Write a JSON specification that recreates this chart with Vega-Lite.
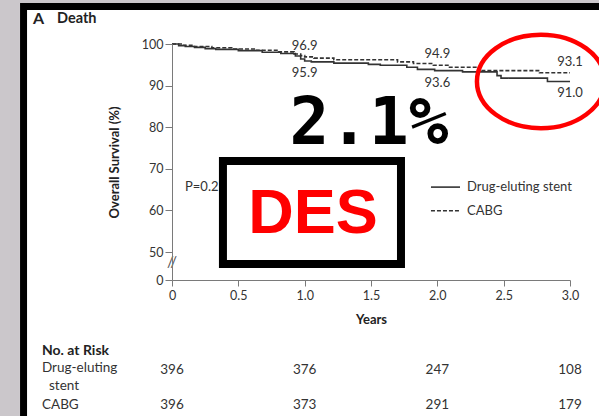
{
  "$schema": "https://vega.github.io/schema/vega-lite/v6.json",
  "width": 398,
  "height": 236,
  "autosize": "none",
  "padding": {"left": 172, "top": 44, "right": 29, "bottom": 136},
  "background": "white",
  "config": {
    "view": {"stroke": null},
    "text": {"font": "Lato", "color": "#333333", "fontSize": 12.5}
  },
  "datasets": {
    "one": [{}],
    "survival": [
      {"group": "Drug-eluting stent", "t": 0, "s": 100},
      {"group": "Drug-eluting stent", "t": 0.05, "s": 99.6},
      {"group": "Drug-eluting stent", "t": 0.1, "s": 99.4},
      {"group": "Drug-eluting stent", "t": 0.17, "s": 99.2},
      {"group": "Drug-eluting stent", "t": 0.25, "s": 98.9},
      {"group": "Drug-eluting stent", "t": 0.33, "s": 98.7},
      {"group": "Drug-eluting stent", "t": 0.5, "s": 98.4},
      {"group": "Drug-eluting stent", "t": 0.68, "s": 98.0},
      {"group": "Drug-eluting stent", "t": 0.82, "s": 97.7},
      {"group": "Drug-eluting stent", "t": 0.93, "s": 97.1},
      {"group": "Drug-eluting stent", "t": 0.97, "s": 96.4},
      {"group": "Drug-eluting stent", "t": 1.0, "s": 95.9},
      {"group": "Drug-eluting stent", "t": 1.05, "s": 95.7},
      {"group": "Drug-eluting stent", "t": 1.22, "s": 95.4},
      {"group": "Drug-eluting stent", "t": 1.48, "s": 95.1},
      {"group": "Drug-eluting stent", "t": 1.57, "s": 94.9},
      {"group": "Drug-eluting stent", "t": 1.77, "s": 94.4},
      {"group": "Drug-eluting stent", "t": 1.85, "s": 93.9},
      {"group": "Drug-eluting stent", "t": 1.98, "s": 93.6},
      {"group": "Drug-eluting stent", "t": 2.19, "s": 93.3},
      {"group": "Drug-eluting stent", "t": 2.45, "s": 92.4},
      {"group": "Drug-eluting stent", "t": 2.48, "s": 91.8},
      {"group": "Drug-eluting stent", "t": 2.83, "s": 91.0},
      {"group": "Drug-eluting stent", "t": 3.0, "s": 91.0},
      {"group": "CABG", "t": 0, "s": 100},
      {"group": "CABG", "t": 0.08, "s": 99.7},
      {"group": "CABG", "t": 0.15, "s": 99.4},
      {"group": "CABG", "t": 0.3, "s": 99.1},
      {"group": "CABG", "t": 0.45, "s": 98.8},
      {"group": "CABG", "t": 0.62, "s": 98.5},
      {"group": "CABG", "t": 0.8, "s": 98.1},
      {"group": "CABG", "t": 0.92, "s": 97.6},
      {"group": "CABG", "t": 0.97, "s": 97.2},
      {"group": "CABG", "t": 1.0, "s": 96.9},
      {"group": "CABG", "t": 1.07, "s": 96.6},
      {"group": "CABG", "t": 1.22, "s": 96.2},
      {"group": "CABG", "t": 1.7, "s": 95.7},
      {"group": "CABG", "t": 1.82, "s": 95.3},
      {"group": "CABG", "t": 1.97, "s": 94.9},
      {"group": "CABG", "t": 2.08, "s": 94.4},
      {"group": "CABG", "t": 2.32, "s": 93.6},
      {"group": "CABG", "t": 2.77, "s": 93.1},
      {"group": "CABG", "t": 3.0, "s": 93.1}
    ],
    "landmarks": [
      {"group": "Drug-eluting stent", "t": 1, "s": 95.9},
      {"group": "Drug-eluting stent", "t": 2, "s": 93.6},
      {"group": "Drug-eluting stent", "t": 3, "s": 91.0},
      {"group": "CABG", "t": 1, "s": 96.9},
      {"group": "CABG", "t": 2, "s": 94.9},
      {"group": "CABG", "t": 3, "s": 93.1}
    ],
    "atRisk": [
      {"group": "Drug-eluting stent", "t": 0, "n": 396},
      {"group": "Drug-eluting stent", "t": 1, "n": 376},
      {"group": "Drug-eluting stent", "t": 2, "n": 247},
      {"group": "Drug-eluting stent", "t": 3, "n": 108},
      {"group": "CABG", "t": 0, "n": 396},
      {"group": "CABG", "t": 1, "n": 373},
      {"group": "CABG", "t": 2, "n": 291},
      {"group": "CABG", "t": 3, "n": 179}
    ]
  },
  "layer": [
    {
      "data": {"name": "survival"},
      "mark": {"type": "line", "interpolate": "step-after", "color": "#333333", "strokeWidth": 1.6},
      "encoding": {
        "x": {
          "field": "t", "type": "quantitative",
          "scale": {"domain": [0, 3], "nice": false, "zero": false},
          "axis": {
            "title": "Years",
            "values": [0, 0.5, 1, 1.5, 2, 2.5, 3],
            "tickCount": 20,
            "labelExpr": "datum.value == 0 ? '0' : format(datum.value, '.1f')",
            "grid": false, "zindex": 1, "labelOverlap": false,
            "domainColor": "#7a7a7a", "tickColor": "#7a7a7a",
            "labelColor": "#333333", "labelFont": "Lato", "labelFontSize": 12.5, "labelFlush": false,
            "titleFont": "Lato", "titleFontSize": 13, "titleFontWeight": "bold", "titleColor": "#222222",
            "tickSize": 6, "labelPadding": 3, "titlePadding": 12
          }
        },
        "y": {
          "field": "s", "type": "quantitative",
          "scale": {"domain": [43.27, 100], "nice": false, "zero": false},
          "axis": {
            "title": "Overall Survival (%)",
            "values": [43.27, 50, 60, 70, 80, 90, 100],
            "tickCount": 20,
            "labelExpr": "datum.value < 45 ? '0' : datum.label",
            "grid": false, "zindex": 1, "labelOverlap": false,
            "domainColor": "#7a7a7a", "tickColor": "#7a7a7a",
            "labelColor": "#333333", "labelFont": "Lato", "labelFontSize": 12.5, "labelFlush": false,
            "titleFont": "Lato", "titleFontSize": 13, "titleFontWeight": "bold", "titleColor": "#222222",
            "tickSize": 7, "labelPadding": 2, "titlePadding": 20
          }
        },
        "detail": {"field": "group"},
        "strokeDash": {
          "field": "group", "type": "nominal",
          "scale": {"domain": ["Drug-eluting stent", "CABG"], "range": [[1, 0], [4, 2]]},
          "legend": null
        }
      }
    },
    {
      "data": {"name": "one"},
      "mark": {"type": "rect", "fill": "#cbc7cb", "strokeWidth": 0},
      "encoding": {
        "x": {"datum": -5, "type": "quantitative"},
        "x2": {"datum": -1.146},
        "y": {"datum": 130, "type": "quantitative"},
        "y2": {"datum": -20}
      }
    },
    {
      "data": {"name": "one"},
      "mark": {"type": "rect", "fill": "#cbc7cb", "strokeWidth": 0},
      "encoding": {
        "x": {"datum": -5, "type": "quantitative"},
        "x2": {"datum": 6},
        "y": {"datum": 130, "type": "quantitative"},
        "y2": {"datum": 109.86}
      }
    },
    {
      "data": {"name": "one"},
      "mark": {"type": "rect", "filled": false, "fillOpacity": 0, "stroke": "black", "strokeWidth": 7},
      "encoding": {
        "x": {"datum": -1.119, "type": "quantitative"},
        "x2": {"datum": 3.6},
        "y": {"datum": 109.0, "type": "quantitative"},
        "y2": {"datum": 2.0}
      }
    },
    {
      "data": {"name": "one"},
      "mark": {"type": "text", "text": "//", "fontSize": 15, "color": "#555555", "align": "center", "baseline": "middle"},
      "encoding": {
        "x": {"datum": 0, "type": "quantitative"},
        "y": {"datum": 47.6, "type": "quantitative"}
      }
    },
    {
      "data": {"name": "landmarks"},
      "transform": [{"filter": "datum.group == 'CABG'"}],
      "mark": {"type": "text", "align": "center", "baseline": "middle", "dy": -11, "fontSize": 13},
      "encoding": {
        "x": {"field": "t", "type": "quantitative"},
        "y": {"field": "s", "type": "quantitative"},
        "text": {"field": "s", "type": "quantitative", "format": ".1f"}
      }
    },
    {
      "data": {"name": "landmarks"},
      "transform": [{"filter": "datum.group == 'Drug-eluting stent'"}],
      "mark": {"type": "text", "align": "center", "baseline": "middle", "dy": 12, "fontSize": 13},
      "encoding": {
        "x": {"field": "t", "type": "quantitative"},
        "y": {"field": "s", "type": "quantitative"},
        "text": {"field": "s", "type": "quantitative", "format": ".1f"}
      }
    },
    {
      "data": {"name": "one"},
      "mark": {"type": "rule", "color": "#333333", "strokeWidth": 1.6},
      "encoding": {
        "x": {"datum": 1.952, "type": "quantitative"},
        "x2": {"datum": 2.171},
        "y": {"datum": 65.6, "type": "quantitative"}
      }
    },
    {
      "data": {"name": "one"},
      "mark": {"type": "rule", "color": "#333333", "strokeWidth": 1.6, "strokeDash": [4, 2]},
      "encoding": {
        "x": {"datum": 1.952, "type": "quantitative"},
        "x2": {"datum": 2.171},
        "y": {"datum": 59.9, "type": "quantitative"}
      }
    },
    {
      "data": {"name": "one"},
      "mark": {"type": "text", "text": "Drug-eluting stent", "align": "left", "baseline": "middle", "fontSize": 13},
      "encoding": {
        "x": {"datum": 2.224, "type": "quantitative"},
        "y": {"datum": 65.6, "type": "quantitative"}
      }
    },
    {
      "data": {"name": "one"},
      "mark": {"type": "text", "text": "CABG", "align": "left", "baseline": "middle", "fontSize": 13},
      "encoding": {
        "x": {"datum": 2.224, "type": "quantitative"},
        "y": {"datum": 59.9, "type": "quantitative"}
      }
    },
    {
      "data": {"name": "one"},
      "mark": {"type": "text", "text": "P=0.25", "align": "left", "baseline": "middle", "fontSize": 13},
      "encoding": {
        "x": {"datum": 0.098, "type": "quantitative"},
        "y": {"datum": 65.6, "type": "quantitative"}
      }
    },
    {
      "data": {"name": "one"},
      "mark": {"type": "rect", "fill": "white", "stroke": "black", "strokeWidth": 8},
      "encoding": {
        "x": {"datum": 0.384, "type": "quantitative"},
        "x2": {"datum": 1.726},
        "y": {"datum": 71.9, "type": "quantitative"},
        "y2": {"datum": 47.1}
      }
    },
    {
      "data": {"name": "one"},
      "mark": {"type": "text", "text": "DES", "font": "Liberation Sans", "fontWeight": "bold", "fontSize": 63, "color": "#ff0000", "align": "center", "baseline": "alphabetic"},
      "encoding": {
        "x": {"datum": 1.063, "type": "quantitative"},
        "y": {"datum": 54.6, "type": "quantitative"}
      }
    },
    {
      "data": {"name": "one"},
      "mark": {"type": "text", "text": "2.1%", "font": "DejaVu Sans Mono", "fontWeight": "bold", "fontSize": 66, "color": "black", "align": "center", "baseline": "alphabetic"},
      "encoding": {
        "x": {"datum": 1.485, "type": "quantitative"},
        "y": {"datum": 75.96, "type": "quantitative"}
      }
    },
    {
      "data": {"name": "one"},
      "mark": {"type": "point", "shape": "M-1,0A1,0.73 0 1,1 1,0A1,0.73 0 1,1 -1,0Z", "filled": false, "stroke": "#ff0000", "strokeWidth": 4.5, "size": 16384, "opacity": 1},
      "encoding": {
        "x": {"datum": 2.781, "type": "quantitative"},
        "y": {"datum": 91.0, "type": "quantitative"}
      }
    },
    {
      "data": {"name": "one"},
      "mark": {"type": "text", "text": "A", "align": "left", "baseline": "middle", "fontSize": 16, "fontWeight": "bold", "color": "#222222"},
      "encoding": {
        "x": {"datum": -1.048, "type": "quantitative"},
        "y": {"datum": 106.0, "type": "quantitative"}
      }
    },
    {
      "data": {"name": "one"},
      "mark": {"type": "text", "text": "Death", "align": "left", "baseline": "middle", "fontSize": 14.5, "fontWeight": "bold", "color": "#222222"},
      "encoding": {
        "x": {"datum": -0.867, "type": "quantitative"},
        "y": {"datum": 106.0, "type": "quantitative"}
      }
    },
    {
      "data": {"name": "one"},
      "mark": {"type": "text", "text": "No. at Risk", "align": "left", "baseline": "middle", "fontSize": 14, "fontWeight": "bold", "color": "#222222"},
      "encoding": {
        "x": {"datum": -0.98, "type": "quantitative"},
        "y": {"datum": 26.2, "type": "quantitative"}
      }
    },
    {
      "data": {"name": "one"},
      "mark": {"type": "text", "text": "Drug-eluting", "align": "left", "baseline": "middle", "fontSize": 13.5},
      "encoding": {
        "x": {"datum": -0.98, "type": "quantitative"},
        "y": {"datum": 22.2, "type": "quantitative"}
      }
    },
    {
      "data": {"name": "one"},
      "mark": {"type": "text", "text": "stent", "align": "left", "baseline": "middle", "fontSize": 13.5},
      "encoding": {
        "x": {"datum": -0.927, "type": "quantitative"},
        "y": {"datum": 17.8, "type": "quantitative"}
      }
    },
    {
      "data": {"name": "one"},
      "mark": {"type": "text", "text": "CABG", "align": "left", "baseline": "middle", "fontSize": 13.5},
      "encoding": {
        "x": {"datum": -0.98, "type": "quantitative"},
        "y": {"datum": 13.2, "type": "quantitative"}
      }
    },
    {
      "data": {"name": "atRisk"},
      "transform": [{"filter": "datum.group == 'Drug-eluting stent'"}],
      "mark": {"type": "text", "align": "center", "baseline": "middle", "fontSize": 13.5},
      "encoding": {
        "x": {"field": "t", "type": "quantitative"},
        "y": {"datum": 21.6, "type": "quantitative"},
        "text": {"field": "n", "type": "quantitative"}
      }
    },
    {
      "data": {"name": "atRisk"},
      "transform": [{"filter": "datum.group == 'CABG'"}],
      "mark": {"type": "text", "align": "center", "baseline": "middle", "fontSize": 13.5},
      "encoding": {
        "x": {"field": "t", "type": "quantitative"},
        "y": {"datum": 13.2, "type": "quantitative"},
        "text": {"field": "n", "type": "quantitative"}
      }
    }
  ]
}
